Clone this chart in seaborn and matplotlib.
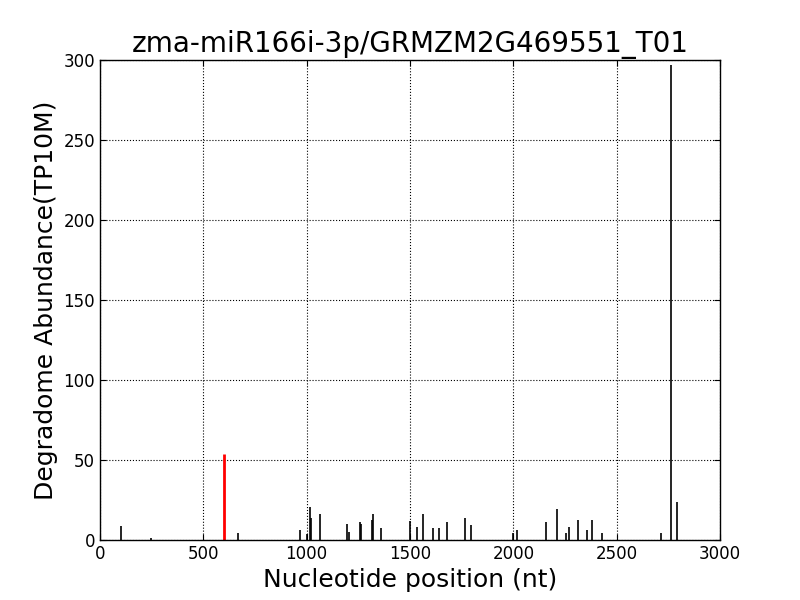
import pandas as pd
import matplotlib
matplotlib.use("Agg")
import matplotlib.pyplot as plt
import seaborn as sns

# Degradome spikes
positions = [103, 248, 669, 969, 1003, 1018, 1020, 1066, 1197, 1206, 1258, 1265,
             1318, 1323, 1361, 1502, 1536, 1565, 1613, 1642, 1679, 1768, 1797,
             2000, 2019, 2160, 2213, 2256, 2271, 2315, 2358, 2382, 2430, 2713,
             2765, 2793]
abundance = [9, 1.5, 4.2, 6, 4, 20.4, 14, 16, 9.8, 4.8, 11, 9.8,
             12.5, 16, 7.7, 12, 8, 16, 7.3, 7.3, 11, 14, 9.2,
             4.2, 6, 11, 19.2, 4.2, 8, 12.3, 6, 12.3, 4.2, 4.2,
             297, 23.5]
target_pos = [600]
target_abund = [53.5]

df = pd.DataFrame({"pos": positions, "abund": abundance})
tgt = pd.DataFrame({"pos": target_pos, "abund": target_abund})

sns.set_style("white", rc={
    "axes.edgecolor": "black",
    "axes.labelcolor": "black",
    "text.color": "black",
    "xtick.color": "black",
    "ytick.color": "black",
    "axes.grid": True,
    "grid.color": "black",
    "grid.linestyle": ":",
    "grid.linewidth": 0.6,
    "xtick.direction": "in",
    "ytick.direction": "in",
    "xtick.top": True,
    "ytick.right": True,
    "xtick.bottom": True,
    "ytick.left": True,
})
plt.rcParams["font.family"] = ["DejaVu Sans"]
plt.rcParams["xtick.major.size"] = 4
plt.rcParams["ytick.major.size"] = 4

fig = plt.figure(figsize=(8, 6), dpi=100)
ax = fig.add_axes([0.125, 0.1, 0.775, 0.8])

ax.vlines(df["pos"], 0, df["abund"], colors="black", linewidth=1.2)
ax.vlines(tgt["pos"], 0, tgt["abund"], colors="red", linewidth=2)

ax.set_xlim(0, 3000)
ax.set_ylim(0, 300)
ax.set_xticks(range(0, 3001, 500))
ax.set_yticks(range(0, 301, 50))
ax.tick_params(labelsize=12, colors="black")
for s in ax.spines.values():
    s.set_linewidth(1)
ax.set_title("zma-miR166i-3p/GRMZM2G469551_T01", fontsize=20, color="black")
ax.set_xlabel("Nucleotide position (nt)", fontsize=18)
ax.set_ylabel("Degradome Abundance(TP10M)", fontsize=18)

fig.savefig("out.png", dpi=100, facecolor="white")
